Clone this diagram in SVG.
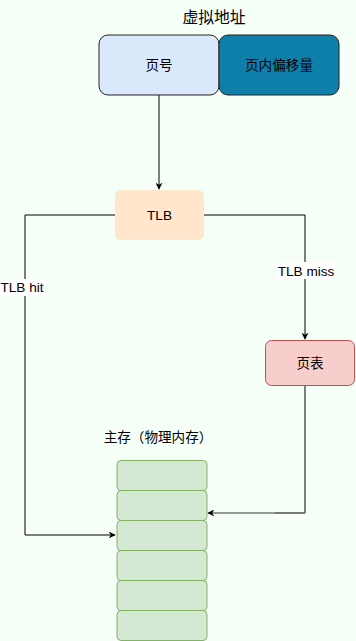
<svg xmlns="http://www.w3.org/2000/svg" width="356" height="641" viewBox="0 0 356 641">
<defs>
<style>
text{font-family:"Liberation Sans","Noto Sans CJK SC",sans-serif;font-size:13.6px;fill:#000;text-anchor:middle;dominant-baseline:central}
.c{fill:none;stroke:#000;stroke-width:1}
.m{fill:#d5e8d4;stroke:#82b366;stroke-width:1}
</style>
<marker id="a" viewBox="0 0 10 10" refX="9" refY="5" markerWidth="7" markerHeight="7" orient="auto" markerUnits="userSpaceOnUse"><path d="M0,0 L10,5 L0,10 L3,5 Z" fill="#000"/></marker>
</defs>
<rect x="0" y="0" width="356" height="641" fill="#f5fff8"/>
<g id="title"><text x="214" y="17" style="font-size:15.8px">虚拟地址</text></g>
<g id="connectors">
<path class="c" d="M159,95 V189" marker-end="url(#a)"/>
<path class="c" d="M115,215 H25 V535 H115" marker-end="url(#a)"/>
<path class="c" d="M204,215 H305 V339" marker-end="url(#a)"/>
<path class="c" d="M305,385 V513 H275"/>
<path d="M305,513 H208" fill="none" stroke="#777" stroke-width="1.5" marker-end="url(#a)"/>
<rect x="0" y="279" width="45" height="17" fill="#fff"/>
<text x="22" y="287">TLB hit</text>
<rect x="277" y="262" width="59" height="17" fill="#fff"/>
<text x="306" y="271">TLB miss</text>
</g>
<g id="pagenum"><rect x="99" y="35" width="120" height="60" rx="9" fill="#dae8fc" stroke="#222"/><text x="159" y="65">页号</text></g>
<g id="offset"><rect x="219" y="35" width="120" height="60" rx="9" fill="#0e7fa8" stroke="#222"/><text x="279" y="65">页内偏移量</text></g>
<g id="tlb"><rect x="115" y="190" width="89" height="50" rx="6" fill="#ffe6cc"/><text x="159.5" y="215">TLB</text></g>
<g id="pagetable"><rect x="265.5" y="340.5" width="89" height="45" rx="6" fill="#f8cecc" stroke="#b85450"/><text x="310" y="363">页表</text></g>
<g id="memlabel"><text x="158" y="437">主存（物理内存）</text></g>
<g id="memory">
<rect class="m" x="117" y="460.5" width="90" height="30" rx="4"/>
<rect class="m" x="117" y="490.5" width="90" height="30" rx="4"/>
<rect class="m" x="117" y="520.5" width="90" height="30" rx="4"/>
<rect class="m" x="117" y="550.5" width="90" height="30" rx="4"/>
<rect class="m" x="117" y="580.5" width="90" height="30" rx="4"/>
<rect class="m" x="117" y="610.5" width="90" height="30" rx="4"/>
</g>
</svg>
